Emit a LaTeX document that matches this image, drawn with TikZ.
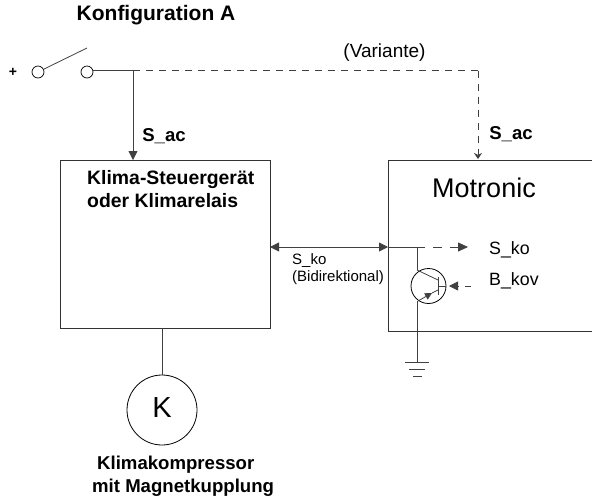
\documentclass[tikz,border=0pt]{standalone}
\usepackage{fontspec}
\setmainfont{Liberation Sans}
\usepackage{tikz}
\usetikzlibrary{arrows.meta,positioning}
\tikzset{
  wire/.style={draw, line width=0.8pt, black!75},
  sig/.style={wire, -{Triangle[length=9pt,width=9pt]}},
  dwire/.style={wire, dash pattern=on 7pt off 6pt},
  block/.style={draw, line width=0.8pt, black!80, minimum width=210pt, minimum height=168pt, inner sep=0pt},
  pin/.style={draw, circle, line width=0.7pt, minimum size=12pt, inner sep=0pt, fill=white},
  bf/.style={font=\fontsize{18.6}{23}\selectfont\bfseries, align=left, inner sep=0pt},
  rm/.style={font=\fontsize{17.8}{20}\selectfont, inner sep=0pt},
  tiny/.style={font=\fontsize{15}{17}\selectfont, align=left, inner sep=0pt}
}
\begin{document}
\begin{tikzpicture}[x=1pt,y=-1pt]
\useasboundingbox (0,0) rectangle (592,499);
\node[bf, font=\fontsize{21}{24}\selectfont\bfseries] (title) at (156,15) {Konfiguration A};
\node[bf, font=\fontsize{14}{16}\selectfont\bfseries] (plus) at (13,72) {+};
\node[pin] (p1) at (38,72) {};
\node[pin] (p2) at (87,72) {};
\coordinate (lever) at (87,48);
\draw[wire] (p1) -- (lever);
\coordinate (fork) at (133,70.5);
\coordinate (corner) at (478,70.5);
\node[block, anchor=north west] (klima) at (60,160) {};
\node[block, anchor=north west, minimum height=171pt] (motronic) at (388,160) {};
\draw[wire] (p2.east |- fork) -- (fork);
\draw[sig] (fork) -- (133,160);
\draw[dwire] (fork) -- (corner);
\draw[dwire, -{Stealth[length=6pt,width=8pt]}] (corner) -- (478,159);
\node[bf] (sac1) at (164,136) {S\_ac};
\node[bf] (sac2) at (511,134) {S\_ac};
\node[rm, font=\fontsize{19}{21}\selectfont] (variante) at (384.5,53) {(Variante)};
\node[bf, font=\fontsize{19.4}{23}\selectfont\bfseries, anchor=north west] (klimatext) at (87,170) {Klima-Steuergerät\\oder Klimarelais};
\node[rm, font=\fontsize{27}{30}\selectfont] (motrotext) at (484,188) {Motronic};
\draw[wire, {Triangle[length=9pt,width=9pt]}-{Triangle[length=9pt,width=9pt]}] (270,247) -- (388,247);
\node[tiny, anchor=north west] (sko1) at (292,253) {S\_ko\\(Bidirektional)};
\node[draw, circle, line width=0.8pt, minimum size=35pt, inner sep=0pt] (trans) at (428.5,286) {};
\coordinate (node1) at (417,247);
\draw[wire] (388,247) -- (node1);
\draw[wire] (node1) -- (417,270);
\draw[wire] (417,270) -- (438,280);
\draw[wire] (438,277) -- (438,295);
\draw[wire, -{Triangle[length=7pt,width=7pt]}] (418,301) -- (432,293);
\draw[wire] (432,293) -- (438,290);
\draw[wire] (trans.east) -- (438,286);
\coordinate (gnd) at (417,362);
\draw[wire] (417,301) -- (gnd);
\draw[wire] (405,362.5) -- (429,362.5);
\draw[wire] (409,369) -- (425,369);
\draw[wire] (413,376) -- (422,376);
\draw[wire] (node1) -- (425,247);
\coordinate (skotip) at (468,247);
\draw[wire, dash pattern=on 9pt off 8pt, -{Triangle[length=10pt,width=9pt]}] (433,247) -- (skotip);
\draw[wire, -{Triangle[length=9pt,width=9pt]}] (458,286) -- (449,286);
\draw[wire] (465,286) -- (471,286);
\node[rm, anchor=west] (sko2) at (489,250) {S\_ko};
\node[rm, anchor=west] (bkov) at (489,281) {B\_kov};
\node[draw, circle, line width=0.8pt, minimum size=70pt, inner sep=0pt] (kmotor) at (162,410) {};
\node[font=\fontsize{29}{32}\selectfont, inner sep=0pt] (ktext) at (162,408) {K};
\draw[wire] (162,328) -- (kmotor);
\node[bf, anchor=north west] (kompr) at (92,456) {\hspace*{5pt}Klimakompressor\\mit Magnetkupplung};
\end{tikzpicture}
\end{document}
